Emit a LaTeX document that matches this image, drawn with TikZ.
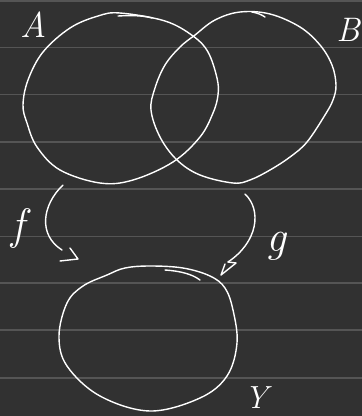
\documentclass[tikz,border=0pt]{standalone}
\begin{document}
\begin{tikzpicture}[x=1pt,y=-1pt,
  setline/.style={draw=white,line width=1.4pt,line cap=round,line join=round},
  rule/.style={draw=rulegray,line width=1.6pt},
  hand/.style={text=white,inner sep=0pt},
  arrowline/.style={draw=white,line width=1.4pt,line cap=round,line join=round}]
\definecolor{bgdark}{HTML}{313131}
\definecolor{rulegray}{HTML}{555555}
\useasboundingbox (0,0) rectangle (362,416);
\fill[bgdark] (0,0) rectangle (362,416);
% ruled lines
\foreach \yy in {1,47.5,94.5,142,189,236.5,283,330,378}
  \draw[rule] (0,\yy) -- (362,\yy);
% set A
\draw[setline] plot[smooth cycle,tension=0.6] coordinates {
 (120,13) (165,21) (193,36) (208,52) (217,78) (218,95) (213,113) (200,137) (173,162)
 (133,180) (100,183) (60,170) (37,147) (27,123) (23,105) (28,80) (43,52) (70,28) (98,16)};
\draw[setline] (118,16) .. controls (135,15) and (145,16) .. (152,18);
% set B
\draw[setline] plot[smooth cycle,tension=0.6] coordinates {
 (240,12) (270,14) (300,27) (320,45) (332,65) (336,85) (333,100) (325,115) (307,142)
 (290,157) (270,170) (250,180) (233,183) (200,175) (177,160) (160,137) (151,110)
 (155,88) (165,65) (180,47) (195,35) (215,20)};
\draw[setline] (252,12) .. controls (258,13) and (262,15) .. (265,17);
% set Y
\draw[setline] plot[smooth cycle,tension=0.6] coordinates {
 (150,266) (183,268) (210,276) (225,288) (233,310) (237,343) (227,376) (200,398)
 (150,411) (100,396) (67,366) (59,336) (67,303) (83,286) (107,275) (125,268)};
\draw[setline] (165,270) .. controls (180,271) and (192,274) .. (200,280);
% labels
\node[hand,font=\itshape\fontsize{36}{36}\selectfont] (labA) at (34,25) {A};
\node[hand,font=\itshape\fontsize{34}{34}\selectfont] (labB) at (348,30) {B};
\node[hand,font=\itshape\fontsize{44}{44}\selectfont] (labf) at (18,228) {f};
\node[hand,font=\itshape\fontsize{44}{44}\selectfont] (labg) at (276,246) {g};
\node[hand,font=\itshape\fontsize{32}{32}\selectfont] (labY) at (256,398) {Y};
% arrow f
\coordinate (fs) at (63,185);
\coordinate (fe) at (62,250);
\coordinate (fh1) at (70,248);
\coordinate (fh2) at (78,259);
\coordinate (fh3) at (60,261);
\draw[arrowline] (fs) .. controls (42,205) and (38,235) .. (fe);
\draw[arrowline] (fh1) -- (fh2) -- (fh3);
% arrow g
\coordinate (gs) at (245,194);
\coordinate (ge) at (228,262);
\coordinate (gh1) at (225,264);
\coordinate (gh2) at (221,275);
\coordinate (gh3) at (236,263);
\draw[arrowline] (gs) .. controls (262,210) and (258,242) .. (ge);
\draw[arrowline] (gh1) -- (gh2) -- (gh3);
\draw[arrowline] (ge) -- (gh3);
\end{tikzpicture}
\end{document}
